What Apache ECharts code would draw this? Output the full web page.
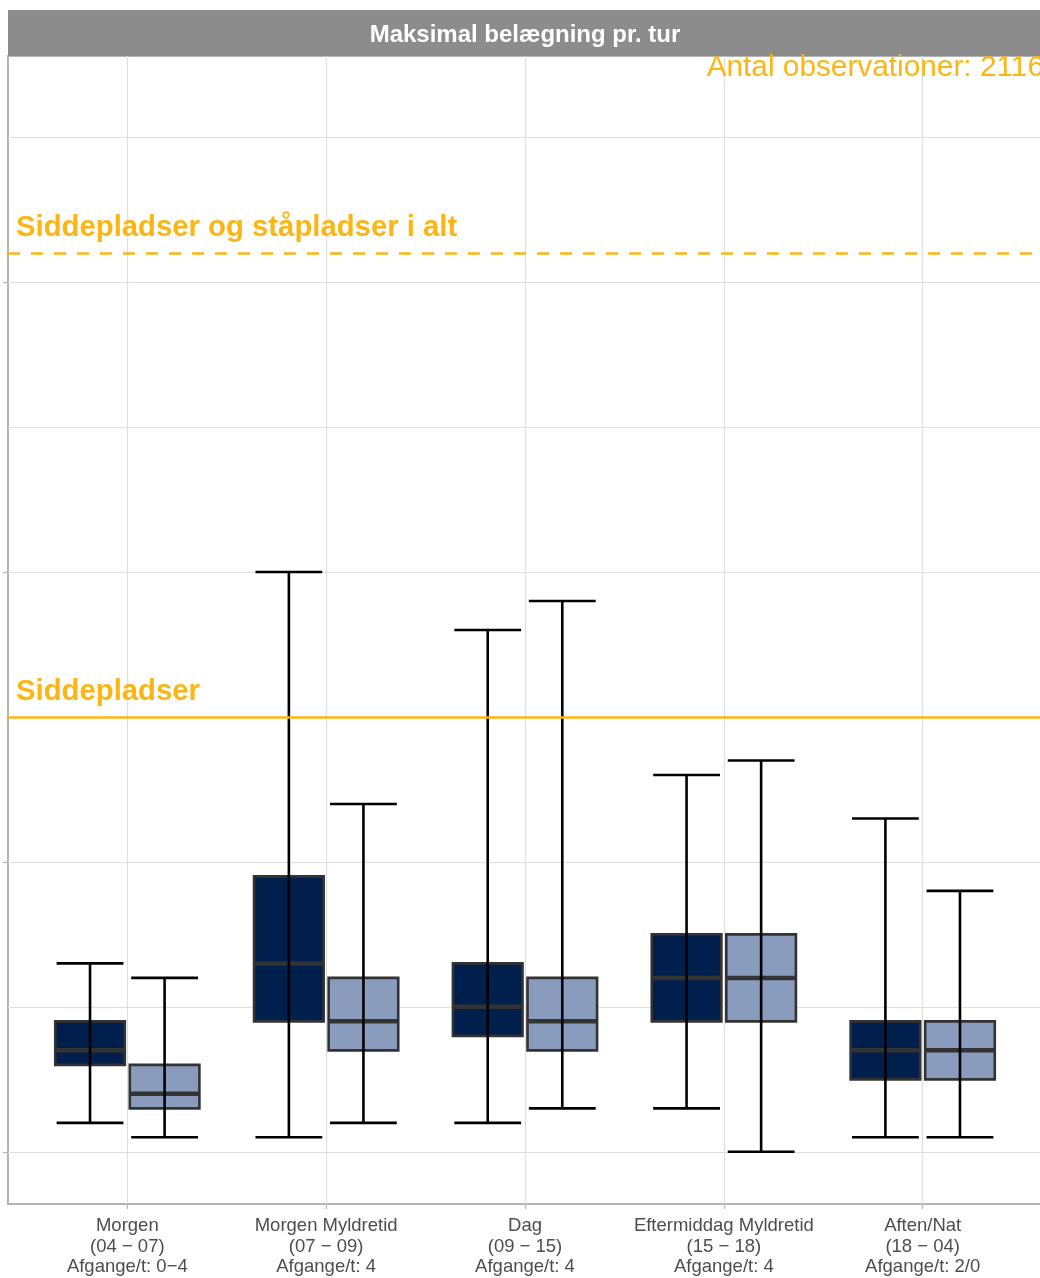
<!DOCTYPE html>
<html>
<head>
<meta charset="utf-8">
<script src="https://cdn.jsdelivr.net/npm/echarts@6/dist/echarts.min.js"></script>
<style>
  html, body { margin: 0; padding: 0; background: #fff; }
  #chart { width: 1040px; height: 1278px; }
</style>
</head>
<body>
<div id="chart"></div>
<script>
// tidsperioder (x-akse)
const periods = [
  'Morgen\n(04 − 07)\nAfgange/t: 0−4',
  'Morgen Myldretid\n(07 − 09)\nAfgange/t: 4',
  'Dag\n(09 − 15)\nAfgange/t: 4',
  'Eftermiddag Myldretid\n(15 − 18)\nAfgange/t: 4',
  'Aften/Nat\n(18 − 04)\nAfgange/t: 2/0'
]

// [min, q1, median, q3, max] pr. periode
const darkStats = [
  [2, 6, 7, 9, 13],
  [1, 9, 13, 19, 40],
  [2, 8, 10, 13, 36],
  [3, 9, 12, 15, 26],
  [1, 5, 7, 9, 23]
]
const lightStats = [
  [1, 3, 4, 6, 12],
  [2, 7, 9, 12, 24],
  [3, 7, 9, 12, 38],
  [0, 9, 12, 15, 27],
  [1, 5, 7, 9, 18]
]

const seatCapacity = 30
const totalCapacity = 62
const observations = 2116

const yTicks = [0, 20, 40, 60]
const xTicks = periods.map((p, i) => i + 1)

const ORANGE = '#FDB515'
const FONT = '"Liberation Sans", Arial, sans-serif'

// boks + errorbar tegnet via akserne
const makeRender = (shift, fill) => (params, api) => {
  const band = api.size([1, 0])[0]
  const xv = api.value(0)
  const cx = api.coord([xv, 0])[0] + shift * band
  const py = k => api.coord([xv, api.value(k)])[1]
  const boxHalf = 0.175 * band
  const capHalf = 0.168 * band
  const lo = py(1), q1 = py(2), med = py(3), q3 = py(4), hi = py(5)
  const black = { stroke: '#000', lineWidth: 2.6 }
  return {
    type: 'group',
    children: [
      { type: 'rect', shape: { x: cx - boxHalf, y: q3, width: 2 * boxHalf, height: q1 - q3 },
        style: { fill: fill, stroke: '#333333', lineWidth: 2.6 } },
      { type: 'line', shape: { x1: cx - boxHalf, y1: med, x2: cx + boxHalf, y2: med },
        style: { stroke: '#333333', lineWidth: 4.5 } },
      { type: 'line', shape: { x1: cx, y1: lo, x2: cx, y2: hi }, style: black },
      { type: 'line', shape: { x1: cx - capHalf, y1: hi, x2: cx + capHalf, y2: hi }, style: black },
      { type: 'line', shape: { x1: cx - capHalf, y1: lo, x2: cx + capHalf, y2: lo }, style: black }
    ]
  }
}

const chart = echarts.init(document.getElementById('chart'), null, { renderer: 'canvas' })

const option = {
  animation: false,
  backgroundColor: '#ffffff',
  grid: {
    left: 8, top: 56, width: 1034, bottom: 74,
    outerBoundsMode: 'none',
    containLabel: false,
    show: true, borderColor: '#b3b3b3', borderWidth: 2
  },
  xAxis: {
    type: 'value',
    min: 0.4,
    max: 5.6,
    axisLine: { show: false, onZero: false },
    axisTick: { show: true, customValues: xTicks, length: 5, lineStyle: { color: '#b3b3b3', width: 1.2 } },
    axisLabel: {
      customValues: xTicks,
      formatter: v => periods[Math.round(v) - 1] || '',
      color: '#4d4d4d',
      fontFamily: FONT,
      fontSize: 18.5,
      lineHeight: 20.5,
      margin: 12
    },
    splitLine: { show: true, lineStyle: { color: '#dedede', width: 1.2 } }
  },
  yAxis: {
    type: 'value',
    min: -3.6,
    max: 75.6,
    axisLine: { show: false, onZero: false },
    axisTick: { show: true, customValues: yTicks, length: 5, lineStyle: { color: '#b3b3b3', width: 1.2 } },
    axisLabel: { show: false },
    splitLine: { show: true, lineStyle: { color: '#dedede', width: 1.2 } },
    minorTick: { show: false, splitNumber: 2 },
    minorSplitLine: { show: true, lineStyle: { color: '#dedede', width: 1.2 } }
  },
  graphic: [
    { type: 'rect', left: 8, top: 10, shape: { width: 1040, height: 46 }, style: { fill: '#8c8c8c' }, z: 10 },
    { type: 'text', x: 525, y: 35, z: 11,
      style: { text: 'Maksimal belægning pr. tur', fill: '#ffffff', font: 'bold 24px ' + FONT, align: 'center', verticalAlign: 'middle' } },
    { type: 'text', x: 1044, y: 83, z: 11,
      style: { text: 'Antal observationer: ' + observations, fill: ORANGE, font: '29.8px ' + FONT, align: 'right', verticalAlign: 'bottom' } }
  ],
  series: [
    {
      type: 'line',
      data: [],
      silent: true,
      markLine: {
        silent: true,
        symbol: ['none', 'none'],
        lineStyle: { color: ORANGE, width: 2.6 },
        label: {
          show: true,
          position: 'insideStartTop',
          distance: [8, 10.5],
          color: ORANGE,
          fontFamily: FONT,
          fontWeight: 'bold',
          fontSize: 29.3
        },
        data: [
          { yAxis: seatCapacity, lineStyle: { type: 'solid' }, label: { formatter: 'Siddepladser' } },
          { yAxis: totalCapacity, lineStyle: { type: [12, 11] }, label: { formatter: 'Siddepladser og ståpladser i alt' } }
        ]
      }
    },
    {
      type: 'custom',
      name: 'dark',
      renderItem: makeRender(-0.1875, '#001F4D'),
      encode: { x: 0, y: [1, 5] },
      data: darkStats.map((s, i) => [i + 1].concat(s)),
      z: 3
    },
    {
      type: 'custom',
      name: 'light',
      renderItem: makeRender(0.1875, '#8A9CBE'),
      encode: { x: 0, y: [1, 5] },
      data: lightStats.map((s, i) => [i + 1].concat(s)),
      z: 3
    }
  ]
}

chart.setOption(option)
</script>
</body>
</html>
